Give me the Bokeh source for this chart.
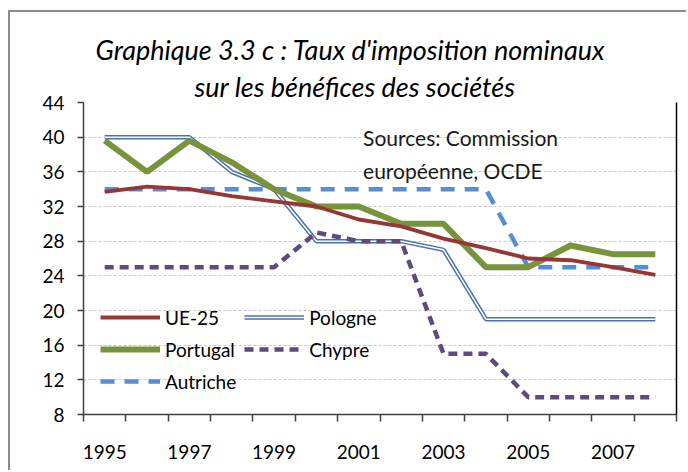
from bokeh.plotting import figure
from bokeh.models import (Range1d, FixedTicker, LinearAxis, Legend, LegendItem,
                          Label, Title)
from bokeh.embed import file_html
from bokeh.resources import INLINE

years = list(range(1995, 2009))
ue25 = [33.7, 34.3, 34.0, 33.2, 32.6, 32.0, 30.5, 29.7, 28.3, 27.2, 26.0, 25.8, 25.0, 24.1]
pologne = [40, 40, 40, 36, 34, 28, 28, 28, 27, 19, 19, 19, 19, 19]
portugal = [39.6, 36, 39.6, 37.1, 34, 32, 32, 30, 30, 25, 25, 27.5, 26.5, 26.5]
chypre = [25, 25, 25, 25, 25, 29, 28, 28, 15, 15, 10, 10, 10, 10]
autriche = [34, 34, 34, 34, 34, 34, 34, 34, 34, 34, 25, 25, 25, 25]
x_labels = [1995, 1997, 1999, 2001, 2003, 2005, 2007]
y_ticks = [8, 12, 16, 20, 24, 28, 32, 36, 40, 44]

FONT = "Lato"

p = figure(width=678, height=460, output_backend="svg", toolbar_location=None,
           x_range=Range1d(years[0] - 0.5, years[-1] + 0.5),
           y_range=Range1d(y_ticks[0], y_ticks[-1]),
           min_border_left=73, min_border_right=12, min_border_top=90,
           min_border_bottom=58, outline_line_color=None,
           background_fill_color="white", border_fill_color="white")
p.styles = {"border-top": "2px solid #8c8c8c", "border-left": "2px solid #8c8c8c",
            "margin-left": "8px", "margin-top": "10px"}

# titles (closest to the plot first)
t2 = Title(text="sur les bénéfices des sociétés", align="left", offset=111,
           text_font=FONT, text_font_style="italic", text_font_size="27px",
           text_color="black", standoff=0)
t1 = Title(text="Graphique 3.3 c : Taux d'imposition nominaux", align="left",
           offset=12, text_font=FONT, text_font_style="italic",
           text_font_size="27px", text_color="black", standoff=3)
p.add_layout(t2, "above")
p.add_layout(t1, "above")

# axes
xa = p.xaxis[0]
xa.ticker = FixedTicker(ticks=x_labels,
                        minor_ticks=[y - 0.5 for y in years] + [years[-1] + 0.5])
xa.major_tick_line_color = None
xa.major_tick_out = 0
xa.major_tick_in = 0
xa.minor_tick_out = 7
xa.minor_tick_in = 0
xa.minor_tick_line_color = "#404040"
xa.minor_tick_line_width = 1.5
xa.axis_line_color = "#404040"
xa.axis_line_width = 1.5
xa.major_label_standoff = 23
xa.major_label_text_font = FONT
xa.major_label_text_font_size = "19px"
xa.major_label_text_color = "black"

ya = p.yaxis[0]
ya.ticker = FixedTicker(ticks=y_ticks)
ya.minor_tick_line_color = None
ya.major_tick_out = 6
ya.major_tick_in = 0
ya.major_tick_line_color = "#404040"
ya.major_tick_line_width = 1.5
ya.axis_line_color = "#404040"
ya.axis_line_width = 1.5
ya.major_label_standoff = 13
ya.major_label_text_font = FONT
ya.major_label_text_font_size = "19px"
ya.major_label_text_color = "black"

ra = LinearAxis(ticker=FixedTicker(ticks=[]), major_tick_line_color=None,
                minor_tick_line_color=None, major_label_text_font_size="0px",
                axis_line_color="black", axis_line_width=1.5)
p.add_layout(ra, "right")

p.xgrid.grid_line_color = None
p.ygrid.grid_line_color = "#c8c8c8"
p.ygrid.grid_line_dash = "3 2"
p.ygrid.grid_line_width = 1

# series (drawing order: Pologne, Chypre, Autriche, Portugal, UE-25)
r_po1 = p.line(years, pologne, line_color="#4a72a8", line_width=4.5)
r_po2 = p.line(years, pologne, line_color="white", line_width=1.5)
r_cy = p.line(years, chypre, line_color="#604a7b", line_width=4.5,
              line_dash="9 6")
r_au = p.line(years, autriche, line_color="#558ed5", line_width=4.5,
              line_dash="14 10")
r_pt = p.line(years, portugal, line_color="#77933c", line_width=6)
r_ue = p.line(years, ue25, line_color="#953735", line_width=3.8, line_join="round")

legend = Legend(items=[
    LegendItem(label="UE-25", renderers=[r_ue]),
    LegendItem(label="Pologne", renderers=[r_po1, r_po2]),
    LegendItem(label="Portugal", renderers=[r_pt]),
    LegendItem(label="Chypre", renderers=[r_cy]),
    LegendItem(label="Autriche", renderers=[r_au]),
], orientation="horizontal", ncols=2, location=(17, 21),
    glyph_width=60, glyph_height=24, label_height=24, spacing=8,
    label_standoff=5, padding=0, margin=0,
    background_fill_alpha=0, border_line_color=None,
    label_text_font=FONT, label_text_font_size="19px", label_text_color="black")
p.add_layout(legend, "center")

for txt, yy in [("Sources: Commission", 40.0), ("européenne, OCDE", 36.1)]:
    p.add_layout(Label(x=2001.1, y=yy, text=txt, text_baseline="middle",
                       text_font=FONT, text_font_size="21px",
                       text_color="#1a1a1a"))

open("out.html", "w").write(file_html(p, INLINE))
